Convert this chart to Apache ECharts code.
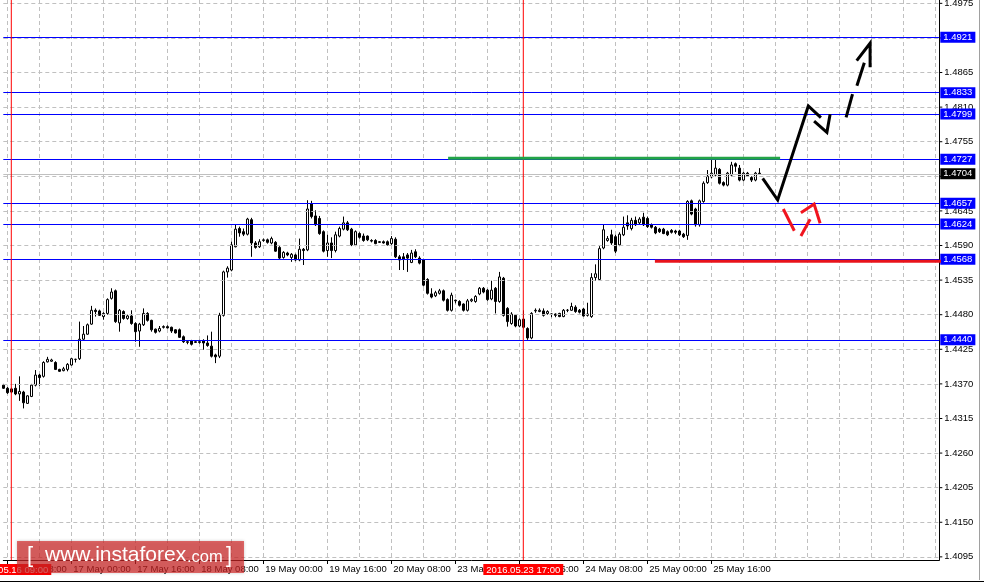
<!DOCTYPE html>
<html><head><meta charset="utf-8">
<script src="https://cdn.jsdelivr.net/npm/echarts@6/dist/echarts.min.js"></script>
<style>html,body{margin:0;padding:0;background:#fff}#c{width:984px;height:586px}</style>
</head><body><div id="c"></div>
<script>
// ---- data (H1 bars) ----
const opens = [1.4368,1.4363,1.4362,1.4363,1.4354,1.4357,1.4339,1.4350,1.4368,1.4384,
1.4382,1.4405,1.4406,1.4404,1.4393,1.4391,1.4393,1.4400,1.4409,1.4410,
1.4441,1.4449,1.4465,1.4487,1.4486,1.4477,1.4482,1.4506,1.4518,1.4467,
1.4485,1.4474,1.4478,1.4466,1.4454,1.4464,1.4482,1.4471,1.4457,1.4454,
1.4461,1.4461,1.4460,1.4456,1.4456,1.4445,1.4437,1.4438,1.4437,1.4437,
1.4439,1.4435,1.4430,1.4416,1.4414,1.4479,1.4548,1.4551,1.4588,1.4617,
1.4612,1.4608,1.4631,1.4594,1.4588,1.4598,1.4599,1.4594,1.4595,1.4587,
1.4571,1.4578,1.4571,1.4575,1.4567,1.4584,1.4583,1.4656,1.4637,1.4633,
1.4612,1.4582,1.4594,1.4582,1.4605,1.4616,1.4626,1.4616,1.4591,1.4609,
1.4605,1.4605,1.4598,1.4598,1.4596,1.4596,1.4596,1.4593,1.4600,1.4572,
1.4572,1.4575,1.4563,1.4580,1.4570,1.4567,1.4536,1.4513,1.4510,1.4514,
1.4518,1.4504,1.4487,1.4503,1.4501,1.4497,1.4487,1.4502,1.4501,1.4513,
1.4522,1.4519,1.4505,1.4522,1.4501,1.4538,1.4490,1.4466,1.4479,1.4462,
1.4473,1.4458,1.4443,1.4486,1.4485,1.4486,1.4482,1.4481,1.4481,1.4482,
1.4477,1.4487,1.4487,1.4492,1.4487,1.4489,1.4479,1.4477,1.4539,1.4536,
1.4586,1.4598,1.4607,1.4604,1.4591,1.4607,1.4626,1.4617,1.4630,1.4626,
1.4635,1.4633,1.4623,1.4619,1.4616,1.4616,1.4612,1.4614,1.4613,1.4613,
1.4608,1.4606,1.4661,1.4648,1.4623,1.4660,1.4690,1.4699,1.4702,1.4711,
1.4690,1.4686,1.4702,1.4720,1.4713,1.4694,1.4705,1.4698,1.4694,1.4705];
const closes = [1.4363,1.4356,1.4357,1.4354,1.4358,1.4340,1.4351,1.4368,1.4384,1.4380,
1.4404,1.4409,1.4408,1.4393,1.4390,1.4394,1.4401,1.4410,1.4409,1.4441,
1.4449,1.4464,1.4487,1.4485,1.4479,1.4482,1.4504,1.4516,1.4469,1.4487,
1.4474,1.4478,1.4466,1.4453,1.4465,1.4482,1.4471,1.4456,1.4452,1.4458,
1.4460,1.4459,1.4454,1.4451,1.4444,1.4437,1.4436,1.4433,1.4436,1.4436,
1.4435,1.4431,1.4414,1.4413,1.4479,1.4548,1.4554,1.4591,1.4616,1.4610,
1.4608,1.4632,1.4594,1.4587,1.4596,1.4599,1.4595,1.4601,1.4581,1.4570,
1.4579,1.4575,1.4576,1.4567,1.4584,1.4582,1.4648,1.4636,1.4623,1.4609,
1.4581,1.4594,1.4582,1.4607,1.4617,1.4626,1.4615,1.4591,1.4612,1.4603,
1.4598,1.4599,1.4597,1.4593,1.4595,1.4594,1.4591,1.4601,1.4572,1.4567,
1.4568,1.4570,1.4578,1.4572,1.4562,1.4527,1.4514,1.4508,1.4515,1.4518,
1.4503,1.4487,1.4511,1.4502,1.4495,1.4487,1.4502,1.4504,1.4509,1.4522,
1.4516,1.4504,1.4519,1.4501,1.4540,1.4479,1.4469,1.4481,1.4462,1.4472,
1.4460,1.4443,1.4482,1.4487,1.4487,1.4479,1.4485,1.4481,1.4479,1.4477,
1.4487,1.4487,1.4493,1.4485,1.4484,1.4478,1.4481,1.4539,1.4545,1.4585,
1.4615,1.4601,1.4594,1.4581,1.4608,1.4619,1.4621,1.4630,1.4623,1.4632,
1.4623,1.4620,1.4619,1.4610,1.4612,1.4609,1.4607,1.4611,1.4611,1.4607,
1.4604,1.4660,1.4640,1.4623,1.4661,1.4689,1.4700,1.4705,1.4713,1.4689,
1.4686,1.4705,1.4718,1.4716,1.4694,1.4705,1.4701,1.4694,1.4705,1.4704];
const lows = [1.4362,1.4354,1.4355,1.4352,1.4343,1.4331,1.4338,1.4349,1.4366,1.4367,
1.4380,1.4404,1.4405,1.4392,1.4389,1.4390,1.4390,1.4399,1.4404,1.4408,
1.4440,1.4448,1.4464,1.4477,1.4478,1.4472,1.4480,1.4504,1.4467,1.4453,
1.4472,1.4472,1.4464,1.4437,1.4429,1.4462,1.4469,1.4453,1.4450,1.4452,
1.4458,1.4458,1.4451,1.4450,1.4443,1.4435,1.4433,1.4431,1.4435,1.4434,
1.4424,1.4429,1.4412,1.4403,1.4411,1.4477,1.4539,1.4549,1.4587,1.4604,
1.4605,1.4606,1.4572,1.4585,1.4586,1.4596,1.4593,1.4592,1.4580,1.4568,
1.4569,1.4573,1.4564,1.4565,1.4565,1.4559,1.4581,1.4633,1.4621,1.4607,
1.4579,1.4572,1.4570,1.4579,1.4603,1.4614,1.4613,1.4589,1.4589,1.4601,
1.4596,1.4597,1.4595,1.4592,1.4594,1.4593,1.4590,1.4591,1.4570,1.4551,
1.4551,1.4548,1.4562,1.4570,1.4560,1.4525,1.4512,1.4506,1.4508,1.4512,
1.4501,1.4485,1.4485,1.4498,1.4493,1.4485,1.4485,1.4500,1.4499,1.4511,
1.4514,1.4502,1.4503,1.4482,1.4499,1.4477,1.4461,1.4464,1.4460,1.4460,
1.4458,1.4440,1.4441,1.4483,1.4484,1.4477,1.4480,1.4476,1.4476,1.4476,
1.4476,1.4484,1.4486,1.4483,1.4482,1.4477,1.4477,1.4475,1.4534,1.4534,
1.4584,1.4596,1.4591,1.4578,1.4589,1.4605,1.4615,1.4614,1.4621,1.4624,
1.4621,1.4618,1.4617,1.4608,1.4610,1.4608,1.4605,1.4609,1.4608,1.4605,
1.4602,1.4599,1.4638,1.4620,1.4620,1.4658,1.4688,1.4697,1.4700,1.4687,
1.4684,1.4684,1.4700,1.4707,1.4692,1.4692,1.4699,1.4691,1.4692,1.4703];
const highs = [1.4370,1.4365,1.4364,1.4370,1.4382,1.4359,1.4352,1.4370,1.4392,1.4386,
1.4406,1.4413,1.4410,1.4406,1.4394,1.4397,1.4403,1.4411,1.4410,1.4469,
1.4462,1.4466,1.4494,1.4490,1.4488,1.4484,1.4506,1.4522,1.4520,1.4489,
1.4487,1.4480,1.4487,1.4468,1.4467,1.4490,1.4484,1.4472,1.4458,1.4462,
1.4463,1.4463,1.4461,1.4457,1.4458,1.4447,1.4438,1.4440,1.4438,1.4440,
1.4441,1.4447,1.4453,1.4418,1.4483,1.4550,1.4557,1.4596,1.4624,1.4620,
1.4617,1.4634,1.4634,1.4597,1.4600,1.4601,1.4601,1.4604,1.4597,1.4589,
1.4581,1.4580,1.4578,1.4577,1.4601,1.4586,1.4662,1.4661,1.4646,1.4637,
1.4614,1.4607,1.4603,1.4612,1.4620,1.4636,1.4629,1.4618,1.4614,1.4611,
1.4609,1.4606,1.4600,1.4600,1.4597,1.4598,1.4598,1.4605,1.4603,1.4575,
1.4578,1.4578,1.4583,1.4584,1.4573,1.4569,1.4538,1.4522,1.4518,1.4521,
1.4520,1.4506,1.4515,1.4504,1.4503,1.4498,1.4505,1.4506,1.4511,1.4524,
1.4524,1.4521,1.4534,1.4524,1.4548,1.4540,1.4492,1.4484,1.4481,1.4474,
1.4487,1.4460,1.4484,1.4490,1.4490,1.4490,1.4487,1.4482,1.4482,1.4483,
1.4489,1.4489,1.4499,1.4495,1.4489,1.4491,1.4499,1.4546,1.4560,1.4589,
1.4623,1.4605,1.4615,1.4607,1.4611,1.4636,1.4638,1.4634,1.4636,1.4635,
1.4642,1.4636,1.4625,1.4621,1.4618,1.4618,1.4614,1.4616,1.4615,1.4615,
1.4610,1.4662,1.4663,1.4650,1.4663,1.4692,1.4710,1.4726,1.4726,1.4713,
1.4692,1.4707,1.4723,1.4722,1.4718,1.4707,1.4707,1.4700,1.4707,1.4713];

const yTicks = [1.4095,1.4150,1.4205,1.4260,1.4315,1.4370,1.4425,1.4480,1.4535,1.4590,1.4645,1.4700,1.4755,1.4810,1.4865,1.4920,1.4975];
const levels = [1.4921,1.4833,1.4799,1.4727,1.4657,1.4624,1.4568,1.4440];
const bidPrice = 1.4704;
const markerTimes = ['2016.05.16 09:00','2016.05.23 17:00'];
const monthNames = ['Jan','Feb','Mar','Apr','May','Jun','Jul','Aug','Sep','Oct','Nov','Dec'];
// hand-drawn annotations: [bar position, price]
const greenLine = [[111.2,1.47286],[194.2,1.47286]];
const redLine = [[162.9,1.45648],[237.4,1.45648]];
const blackPaths = [
  [[189.85,1.46968],[193.6,1.46623],[201.25,1.48118],[204.4,1.47932]],
  [[202.7,1.47879],[205.9,1.47699],[206.7,1.47986]],
  [[210.7,1.47938],[212.3,1.48308]],
  [[213.4,1.48440],[215.25,1.48806]],
  [[213.35,1.48838],[216.7,1.49115],[216.7,1.48733]]
];
const redPaths = [
  [[195.0,1.46480],[197.75,1.46135]],
  [[199.4,1.46051],[201.7,1.46316]],
  [[199.4,1.46421],[202.7,1.46560],[204.2,1.46253]]
];

// ---- categories: hourly bars, weekends skipped ----
const SLOTS = 235;
const Y_MIN = 1.40900, Y_MAX = 1.49803;
const categories = [];
(function(){
  let t = Date.UTC(2016,4,16,7);
  const p = n => (n<10?'0':'')+n;
  while (categories.length < SLOTS) {
    const d = new Date(t);
    const wd = d.getUTCDay();
    if (wd !== 0 && wd !== 6) categories.push(d.getUTCFullYear()+'.'+p(d.getUTCMonth()+1)+'.'+p(d.getUTCDate())+' '+p(d.getUTCHours())+':00');
    t += 3600000;
  }
})();
const nBars = opens.length;
const FONT = '"Liberation Sans", Arial, sans-serif';
const FS = 9.5;

const chart = echarts.init(document.getElementById('c'), null, {renderer:'canvas'});
const isLabelIdx = i => i < nBars && (i - 1) % 16 === 0;

const series = [];
series.push({
  type:'candlestick', xAxisIndex:0, yAxisIndex:0, z:2, barWidth:3, silent:true,
  data: opens.map((o,i)=>[o, closes[i], lows[i], highs[i]]),
  itemStyle:{color:'#ffffff', color0:'#000000', borderColor:'#000000', borderColor0:'#000000', borderWidth:1}
});
// dashed horizontal grid + right tick labels
series.push({
  type:'line', data:[], z:1, silent:true,
  markLine:{silent:true, symbol:['none','none'], animation:false, precision:4,
    lineStyle:{color:'#c0c0c0', type:[4,3], width:1},
    label:{show:true, position:'end', distance:0,
      rich:{t:{width:3,height:1,backgroundColor:'#000'}, v:{padding:[0,0,0,2], color:'#000', fontFamily:FONT, fontSize:FS}}},
    emphasis:{disabled:true},
    data: yTicks.map(v=>({yAxis:v, label:{formatter:'{t|}{v|'+v.toFixed(4)+'}'}}))
  }
});
// bid line
series.push({
  type:'line', data:[], z:5, silent:true,
  markLine:{silent:true, symbol:['none','none'], animation:false, precision:4,
    lineStyle:{color:'#c0c0c0', type:'solid', width:1},
    label:{show:true, position:'end', distance:1, color:'#fff', backgroundColor:'#000', padding:[1,3,0,3], fontFamily:FONT, fontSize:FS, lineHeight:10},
    emphasis:{disabled:true},
    data:[{yAxis:bidPrice, label:{formatter:bidPrice.toFixed(4)}}]
  }
});
// level lines
series.push({
  type:'line', data:[], z:6, silent:true,
  markLine:{silent:true, symbol:['none','none'], animation:false, precision:4,
    lineStyle:{color:'#0000ff', type:'solid', width:1},
    label:{show:true, position:'end', distance:1, color:'#fff', backgroundColor:'#0000ff', padding:[1,3,0,3], fontFamily:FONT, fontSize:FS, lineHeight:10},
    emphasis:{disabled:true},
    data: levels.map(v=>({yAxis:v, label:{formatter:v.toFixed(4)}}))
  }
});
// red vertical markers: lines as series, labels via markLine (line transparent)
markerTimes.forEach(t => series.push({
  type:'line', xAxisIndex:0, yAxisIndex:0, z:7, silent:true, symbol:'none', clip:true,
  data:[[t, Y_MIN],[t, Y_MAX]],
  lineStyle:{color:'#ff0000', width:1, type:'solid'}
}));
series.push({
  type:'line', data:[], z:7, silent:true,
  markLine:{silent:true, symbol:['none','none'], animation:false,
    lineStyle:{color:'rgba(255,0,0,0)', width:1, type:'solid'},
    label:{show:true, position:'start', distance:4, color:'#fff', backgroundColor:'#ff0000', padding:[1,3,0,3], fontFamily:FONT, fontSize:FS, lineHeight:10},
    emphasis:{disabled:true},
    data: markerTimes.map(t=>({xAxis:t, label:{formatter:t}}))
  }
});
// annotations
const addPath = (pts, color, width, z) => series.push({
  type:'line', xAxisIndex:1, yAxisIndex:0, data:pts, z:z, silent:true, clip:false,
  symbol:'none', lineStyle:{color:color, width:width, cap:'butt', join:'miter'}
});
addPath(greenLine, '#23a447', 3, 8);
addPath(redLine, '#e8141c', 3, 9);
blackPaths.forEach(p => addPath(p, '#000000', 3, 9));
redPaths.forEach(p => addPath(p, '#f0141e', 3, 9));

chart.setOption({
  animation:false,
  backgroundColor:'#ffffff',
  grid:{left:3.3, right:44.7, top:0, bottom:26, containLabel:false},
  xAxis:[{
    type:'category', data:categories, boundaryGap:false,
    axisLine:{show:true, onZero:false, lineStyle:{color:'#000', width:1}},
    axisTick:{show:true, interval:(i)=>isLabelIdx(i), length:4, lineStyle:{color:'#000'}},
    axisLabel:{show:true, interval:(i)=>isLabelIdx(i), align:'left', verticalAlign:'top', margin:4, padding:[0,0,0,2],
      color:'#000', fontFamily:FONT, fontSize:FS,
      formatter:(v)=>parseInt(v.slice(8,10),10)+' '+monthNames[parseInt(v.slice(5,7),10)-1]+' '+v.slice(11)},
    splitLine:{show:true, interval:(i)=>(i-1)%8===0, lineStyle:{color:'#c0c0c0', type:[4,3], width:1}}
  },{
    type:'value', min:0, max:SLOTS-1, show:false,
    axisLine:{show:false, onZero:false}, splitLine:{show:false}, axisTick:{show:false}, axisLabel:{show:false}
  }],
  yAxis:[{
    type:'value', position:'right', min:Y_MIN, max:Y_MAX, scale:true,
    axisLine:{show:true, onZero:false, lineStyle:{color:'#000', width:1}},
    axisTick:{show:false}, axisLabel:{show:false}, splitLine:{show:false}
  }],
  series: series,
  graphic:[
    {type:'rect', shape:{x:0, y:581, width:984, height:1}, style:{fill:'#000'}, silent:true, z:50},
    {type:'rect', shape:{x:979, y:0, width:1, height:580}, style:{fill:'#a0a0a0'}, silent:true, z:50},
    {type:'rect', shape:{x:17, y:541, width:227, height:32}, style:{fill:'rgba(214,38,38,0.68)', shadowBlur:3, shadowColor:'rgba(0,0,0,0.3)'}, silent:true, z:100},
    {type:'text', x:27, y:545, style:{text:'[', fill:'#fff', font:'22px "Liberation Sans", Arial', verticalAlign:'top'}, silent:true, z:101},
    {type:'text', x:45, y:566, style:{text:'www.instaforex', fill:'#fff', font:'21px "Liberation Sans", Arial', verticalAlign:'bottom'}, silent:true, z:101},
    {type:'text', x:187, y:566, style:{text:'.com', fill:'#fff', font:'16.5px "Liberation Sans", Arial', verticalAlign:'bottom'}, silent:true, z:101},
    {type:'text', x:226, y:545, style:{text:']', fill:'#fff', font:'22px "Liberation Sans", Arial', verticalAlign:'top'}, silent:true, z:101}
  ]
});
</script></body></html>
